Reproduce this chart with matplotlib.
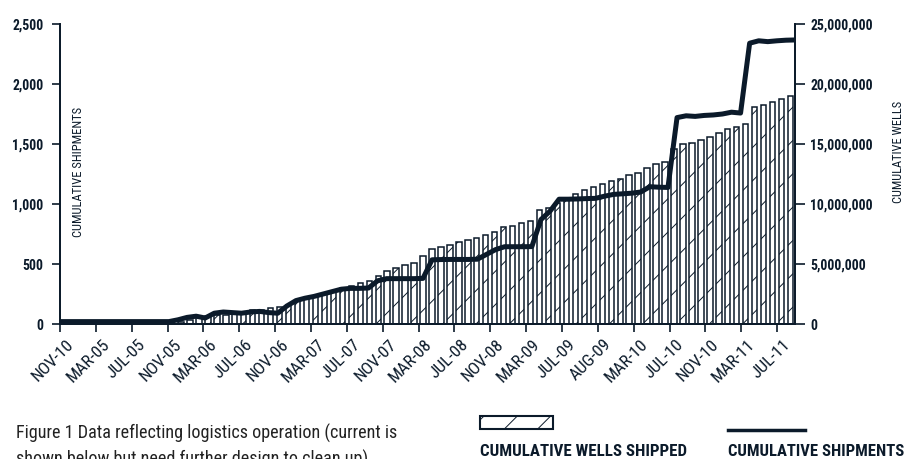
import numpy as np
import matplotlib.pyplot as plt
import matplotlib.transforms as mtransforms
from matplotlib import font_manager as fm
from matplotlib.patches import Rectangle
from matplotlib.lines import Line2D

# pick a narrow face if there is one, the original uses a condensed type
names = {f.name: f.stretch for f in fm.fontManager.ttflist}
face, stretch = 'Roboto', 'normal'
for cand in ['Roboto Condensed', 'Liberation Sans Narrow', 'Open Sans Condensed',
             'Noto Sans Condensed', 'DejaVu Sans Condensed']:
    if cand in names:
        face, stretch = cand, 'normal'
        break
else:
    for f in fm.fontManager.ttflist:
        if f.name in ('Roboto', 'Noto Sans', 'Open Sans', 'DejaVu Sans') and 'condensed' in str(f.stretch):
            face, stretch = f.name, f.stretch
            break
plt.rcParams['font.family'] = [face, 'DejaVu Sans']
plt.rcParams['font.stretch'] = stretch
plt.rcParams['hatch.linewidth'] = 0.7
navy = '#0b1a2a'

# x tick labels (every 4th month, as printed on the original)
tick_labels = ['NOV-10', 'MAR-05', 'JUL-05', 'NOV-05', 'MAR-06', 'JUL-06', 'NOV-06',
               'MAR-07', 'JUL-07', 'NOV-07', 'MAR-08', 'JUL-08', 'NOV-08', 'MAR-09',
               'JUL-09', 'AUG-09', 'MAR-10', 'JUL-10', 'NOV-10', 'MAR-11', 'JUL-11']

# cumulative wells shipped (bars, right axis), one value per month
wells = [0] * 13 + [
    200000, 350000, 550000, 650000, 750000, 780000, 900000, 1030000, 1150000, 1200000,
    1300000, 1440000, 1580000, 2000000, 2140000, 2360000, 2560000, 2750000, 3000000, 3200000,
    3400000, 3580000, 3980000, 4400000, 4700000, 4920000, 5110000, 5630000, 6280000, 6420000,
    6560000, 6860000, 7000000, 7200000, 7450000, 7630000, 8110000, 8200000, 8440000, 8600000,
    9470000, 9700000, 10100000, 10350000, 10800000, 11200000, 11390000, 11680000, 11900000, 12080000,
    12420000, 12590000, 12970000, 13310000, 13530000, 14560000, 14970000, 15110000, 15330000, 15560000,
    15890000, 16220000, 16390000, 16670000, 18060000, 18220000, 18530000, 18780000, 18970000]

# cumulative shipments (line, left axis), one value per month
shipments = [20] * 13 + [
    35, 55, 65, 50, 90, 100, 95, 90, 100, 105,
    95, 90, 150, 195, 215, 230, 250, 270, 290, 297,
    297, 300, 360, 378, 378, 378, 378, 380, 535, 537,
    538, 538, 538, 540, 580, 620, 644, 644, 644, 645,
    870, 940, 1040, 1040, 1042, 1045, 1047, 1065, 1080, 1085,
    1090, 1100, 1144, 1140, 1138, 1720, 1735, 1730, 1738, 1742,
    1750, 1765, 1758, 2340, 2360, 2353, 2360, 2365, 2367]

left_ticks = [0, 500, 1000, 1500, 2000, 2500]
right_ticks = [0, 5000000, 10000000, 15000000, 20000000, 25000000]

fig = plt.figure(figsize=(9.06, 4.59), dpi=100)
ax = fig.add_axes([60 / 906, 1 - 324 / 459, 735 / 906, 300 / 459])
ax2 = ax.twinx()
ax.set_zorder(ax2.get_zorder() + 1)
ax.patch.set_visible(False)

n = len(wells)
ax2.bar(np.arange(n) + 0.5, wells, width=0.6, color='white', edgecolor=navy,
        linewidth=1.1, hatch='/')
ax.plot(np.arange(n) * n / (n - 1), shipments, color=navy, lw=3.6,
        solid_joinstyle='round', solid_capstyle='butt')

ax.set_xlim(0, n)
ax.set_ylim(0, 2500)
ax2.set_ylim(0, 25000000)

for a in (ax, ax2):
    a.spines['top'].set_visible(False)
    for s in ('left', 'right', 'bottom'):
        a.spines[s].set_color(navy)
        a.spines[s].set_linewidth(1.3)

ax.set_yticks(left_ticks, labels=[f'{v:,}' for v in left_ticks],
              fontweight='bold', color=navy)
ax2.set_yticks(right_ticks, labels=[f'{v:,}' for v in right_ticks],
               fontweight='bold', color=navy)
ax.set_xticks(np.arange(0, 81, 4), labels=tick_labels, rotation=45, ha='right',
              rotation_mode='anchor', color=navy)
ax.tick_params(axis='y', length=6, width=1.2, color=navy, pad=6)
ax2.tick_params(axis='y', length=7, width=1.2, color=navy, pad=4)
ax.tick_params(axis='x', length=6, width=1.2, color=navy, pad=3)

# the month labels sit a little right of their ticks on the original
shift = mtransforms.ScaledTranslation(6 / 100, 0, fig.dpi_scale_trans)
for lbl in ax.get_xticklabels():
    lbl.set_transform(lbl.get_transform() + shift)

lab_l = fig.text(79 / 906, 1 - 172 / 459, 'CUMULATIVE SHIPMENTS', rotation=90,
                 ha='center', va='center', color=navy)
lab_r = fig.text(898 / 906, 1 - 152 / 459, 'CUMULATIVE WELLS', rotation=90,
                 ha='center', va='center', color=navy)

# legend drawn by hand below the chart
fig.add_artist(Rectangle((480 / 906, 1 - 429 / 459), 73 / 906, 13 / 459,
                         transform=fig.transFigure, facecolor='white',
                         edgecolor=navy, lw=1.5, hatch='/'))
fig.add_artist(Line2D([728 / 906, 805 / 906], [1 - 430 / 459] * 2,
                      transform=fig.transFigure, color=navy, lw=2.5))
leg1 = fig.text(480 / 906, 1 - 452 / 459, 'CUMULATIVE WELLS SHIPPED', va='center',
                fontweight='bold', color=navy)
leg2 = fig.text(728 / 906, 1 - 452 / 459, 'CUMULATIVE SHIPMENTS', va='center',
                fontweight='bold', color=navy)
cap = fig.text(16 / 906, 1 - 424 / 459,
               'Figure 1 Data reflecting logistics operation (current is\n'
               'shown below but need further design to clean up)',
               va='top', linespacing=1.45, color='#222222')

# size the type so that each text takes the width it has on the original
fig.canvas.draw()
r = fig.canvas.get_renderer()


def size_for(t, px, along='width'):
    bb = t.get_window_extent(r)
    return t.get_fontsize() * px / (bb.width if along == 'width' else bb.height)


ax.tick_params(axis='y', labelsize=size_for(ax.get_yticklabels()[-1], 31))
ax2.tick_params(axis='y', labelsize=size_for(ax2.get_yticklabels()[-1], 62))
probe = fig.text(0, 0, 'NOV-10', color=navy)
ax.tick_params(axis='x', labelsize=size_for(probe, 52))
probe.remove()
for t, px, along in [(lab_l, 130, 'height'), (lab_r, 103, 'height'),
                     (leg1, 206, 'width'), (leg2, 176, 'width')]:
    t.set_fontsize(size_for(t, px, along))
cap.set_fontsize(cap.get_fontsize() * 379 / cap.get_window_extent(r).width)

fig.savefig('out.png', dpi=100)
